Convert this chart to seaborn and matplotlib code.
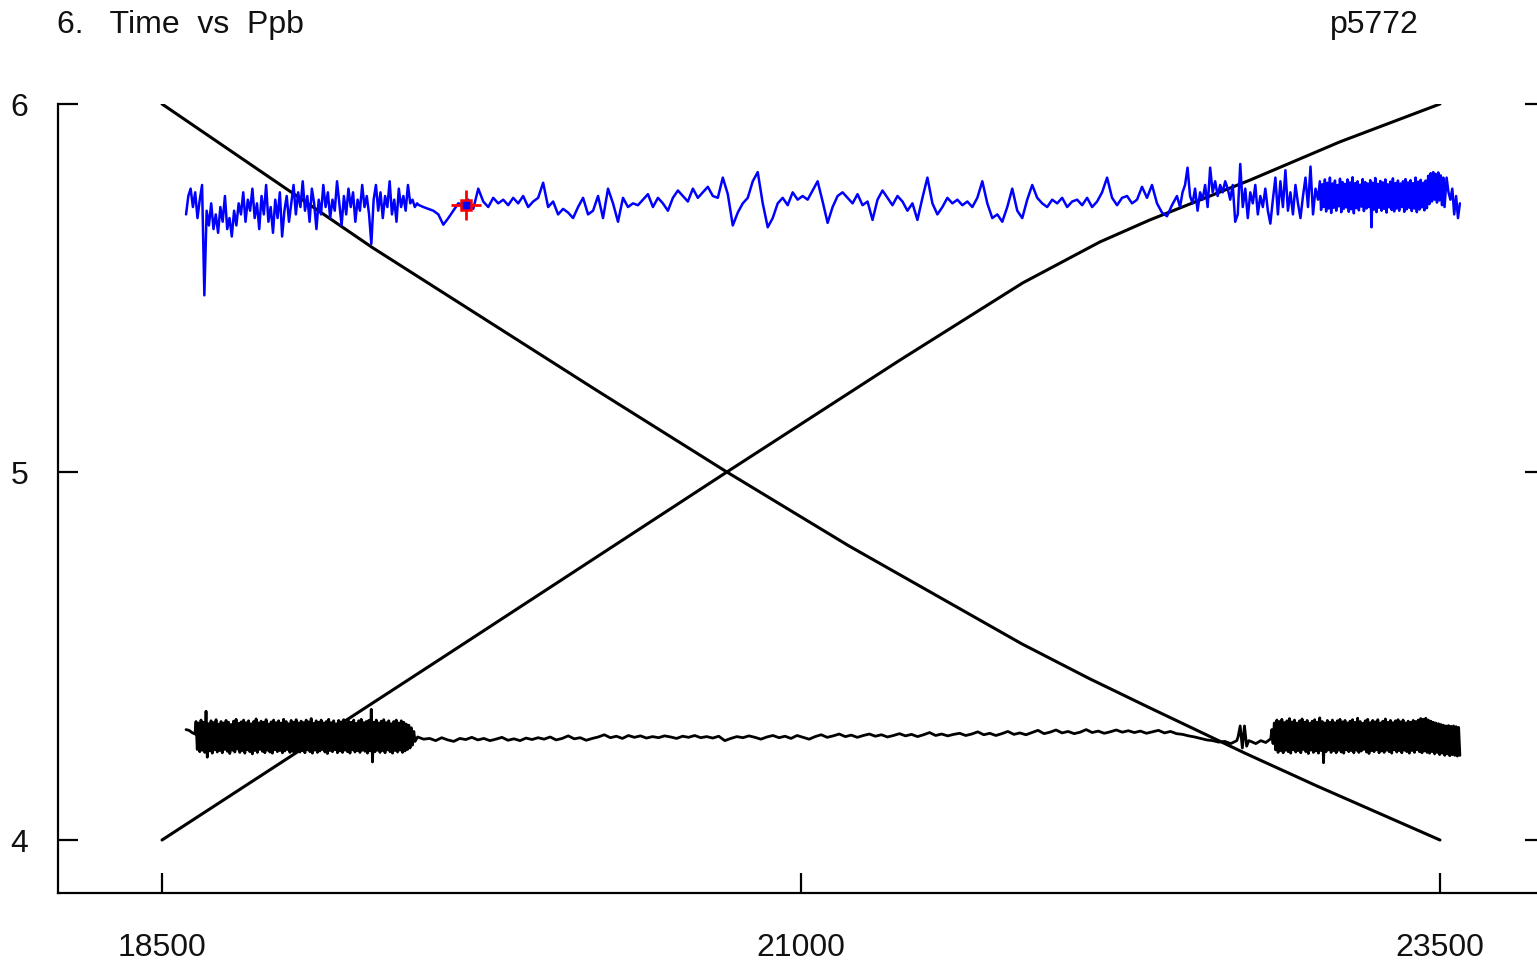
import numpy as np
import matplotlib
matplotlib.use("Agg")
import matplotlib.pyplot as plt
import seaborn as sns

# ---------------- data ----------------
# Smooth model curves (time, value)
fall_t = [18500, 19325, 20198, 20710, 21188, 21864, 22130, 22365, 22737, 23018, 23500]
fall_v = [6.000, 5.609, 5.223, 5.000, 4.799, 4.533, 4.438, 4.359, 4.236, 4.147, 4.000]

rise_t = [18500, 19607, 20710, 21387, 21868, 22169, 22365, 22756, 23108, 23500]
rise_v = [4.000, 4.500, 5.000, 5.304, 5.514, 5.625, 5.685, 5.793, 5.897, 6.000]

# Ppb series: spans of regular cadence (start, end) and the values in each
ppb_span = [(18594, 19498), (19503, 22471), (22483, 23023), (23030, 23518), (23526, 23578)]
ppb_a = [5.70, 5.75, 5.77, 5.72, 5.76, 5.69, 5.74, 5.78, 5.48, 5.71,
         5.67, 5.73, 5.66, 5.70, 5.65, 5.72, 5.68, 5.75, 5.66, 5.69,
         5.64, 5.71, 5.67, 5.73, 5.70, 5.76, 5.68, 5.74, 5.71, 5.77,
         5.69, 5.73, 5.66, 5.75, 5.70, 5.78, 5.68, 5.72, 5.65, 5.74,
         5.69, 5.76, 5.64, 5.71, 5.75, 5.68, 5.73, 5.78, 5.70, 5.76,
         5.72, 5.79, 5.71, 5.75, 5.68, 5.77, 5.73, 5.66, 5.74, 5.70,
         5.78, 5.72, 5.76, 5.69, 5.74, 5.71, 5.79, 5.73, 5.67, 5.75,
         5.70, 5.77, 5.72, 5.76, 5.68, 5.74, 5.71, 5.78, 5.72, 5.75,
         5.70, 5.62, 5.74, 5.78, 5.71, 5.76, 5.69, 5.75, 5.72, 5.79,
         5.70, 5.74, 5.68, 5.77, 5.72, 5.75, 5.71, 5.78, 5.73, 5.74,
         5.72, 5.73]
ppb_b = [5.726, 5.720, 5.715, 5.710, 5.700, 5.672, 5.690, 5.710, 5.730, 5.726,
         5.740, 5.715, 5.770, 5.735, 5.720, 5.745, 5.730, 5.740, 5.725, 5.745,
         5.730, 5.750, 5.720, 5.735, 5.745, 5.786, 5.720, 5.735, 5.700, 5.715,
         5.705, 5.690, 5.720, 5.745, 5.700, 5.710, 5.750, 5.690, 5.770, 5.730,
         5.680, 5.745, 5.720, 5.730, 5.725, 5.740, 5.755, 5.720, 5.745, 5.730,
         5.710, 5.745, 5.765, 5.750, 5.735, 5.770, 5.745, 5.760, 5.775, 5.750,
         5.745, 5.800, 5.755, 5.670, 5.705, 5.730, 5.745, 5.790, 5.815, 5.730,
         5.665, 5.690, 5.730, 5.745, 5.725, 5.760, 5.740, 5.750, 5.740, 5.765,
         5.790, 5.735, 5.677, 5.720, 5.750, 5.760, 5.745, 5.730, 5.755, 5.725,
         5.735, 5.685, 5.740, 5.765, 5.745, 5.725, 5.750, 5.735, 5.710, 5.730,
         5.685, 5.745, 5.800, 5.730, 5.700, 5.720, 5.745, 5.730, 5.740, 5.725,
         5.735, 5.720, 5.745, 5.790, 5.730, 5.690, 5.700, 5.680, 5.720, 5.770,
         5.710, 5.690, 5.740, 5.780, 5.745, 5.730, 5.720, 5.740, 5.730, 5.745,
         5.720, 5.735, 5.740, 5.725, 5.745, 5.720, 5.735, 5.760, 5.800, 5.745,
         5.725, 5.745, 5.750, 5.730, 5.740, 5.775, 5.745, 5.780, 5.730, 5.705,
         5.695, 5.725, 5.750]
ppb_c = [5.72, 5.76, 5.78, 5.827, 5.75, 5.73, 5.77, 5.71, 5.76, 5.74,
         5.78, 5.72, 5.827, 5.76, 5.79, 5.75, 5.78, 5.76, 5.79, 5.77,
         5.74, 5.78, 5.68, 5.70, 5.837, 5.72, 5.77, 5.69, 5.76, 5.73,
         5.78, 5.70, 5.75, 5.72, 5.77, 5.71, 5.675, 5.74, 5.80, 5.70,
         5.79, 5.72, 5.82, 5.71, 5.76, 5.70, 5.78, 5.73, 5.69, 5.75,
         5.80, 5.72, 5.83, 5.70, 5.77, 5.74]
# densely sampled stretch: upper and lower swing of consecutive samples
ppb_d_hi = [5.790, 5.782, 5.795, 5.786, 5.800, 5.784, 5.792, 5.780, 5.797, 5.788,
            5.783, 5.795, 5.787, 5.801, 5.785, 5.790, 5.781, 5.796, 5.788, 5.784,
            5.793, 5.786, 5.799, 5.783, 5.791, 5.787, 5.795, 5.782, 5.789, 5.798,
            5.785, 5.792, 5.784, 5.790, 5.796, 5.787, 5.793, 5.785, 5.800, 5.789,
            5.794, 5.786, 5.792, 5.805, 5.812, 5.815, 5.810, 5.814, 5.806, 5.800]
ppb_d_lo = [5.712, 5.720, 5.708, 5.716, 5.704, 5.718, 5.710, 5.722, 5.706, 5.715,
            5.719, 5.707, 5.714, 5.703, 5.717, 5.711, 5.721, 5.709, 5.716, 5.720,
            5.665, 5.713, 5.706, 5.718, 5.710, 5.715, 5.705, 5.719, 5.712, 5.708,
            5.716, 5.710, 5.720, 5.707, 5.714, 5.718, 5.709, 5.716, 5.706, 5.713,
            5.719, 5.711, 5.717, 5.728, 5.735, 5.740, 5.732, 5.738, 5.725, 5.720]
ppb_e = [5.80, 5.76, 5.74, 5.77, 5.70, 5.75, 5.69, 5.73]

# Residual-like series near 4.28
res_span = [(18594, 18629), (18633, 19490), (19500, 22705), (22710, 22752),
            (22760, 22838), (22842, 23578)]
res_lead = [4.300, 4.298, 4.292, 4.288]
res_a_hi = [4.322, 4.318, 4.326, 4.320, 4.350, 4.316, 4.324, 4.319, 4.327, 4.315,
            4.322, 4.318, 4.325, 4.320, 4.314, 4.323, 4.328, 4.317, 4.321, 4.326,
            4.319, 4.324, 4.316, 4.322, 4.329, 4.318, 4.323, 4.320, 4.327, 4.315,
            4.321, 4.326, 4.319, 4.324, 4.318, 4.328, 4.322, 4.316, 4.325, 4.320,
            4.327, 4.318, 4.323, 4.319, 4.326, 4.321, 4.330, 4.317, 4.324, 4.320,
            4.326, 4.318, 4.322, 4.328, 4.319, 4.324, 4.316, 4.325, 4.321, 4.327,
            4.318, 4.323, 4.320, 4.326, 4.317, 4.324, 4.328, 4.319, 4.322, 4.325,
            4.355, 4.320, 4.326, 4.318, 4.323, 4.327, 4.319, 4.324, 4.316, 4.322,
            4.326, 4.318, 4.324, 4.320, 4.315, 4.312, 4.305, 4.295]
res_a_lo = [4.246, 4.240, 4.244, 4.238, 4.225, 4.242, 4.236, 4.245, 4.239, 4.243,
            4.237, 4.246, 4.241, 4.235, 4.244, 4.239, 4.247, 4.238, 4.243, 4.236,
            4.245, 4.240, 4.234, 4.243, 4.238, 4.246, 4.241, 4.237, 4.244, 4.239,
            4.236, 4.245, 4.240, 4.243, 4.237, 4.242, 4.246, 4.238, 4.241, 4.235,
            4.244, 4.239, 4.243, 4.237, 4.245, 4.240, 4.236, 4.244, 4.238, 4.242,
            4.246, 4.239, 4.235, 4.243, 4.240, 4.245, 4.237, 4.242, 4.238, 4.244,
            4.240, 4.236, 4.245, 4.239, 4.243, 4.238, 4.244, 4.241, 4.236, 4.242,
            4.212, 4.240, 4.244, 4.238, 4.243, 4.237, 4.245, 4.240, 4.236, 4.243,
            4.239, 4.244, 4.238, 4.242, 4.246, 4.250, 4.258, 4.268]
res_b = [4.280, 4.274, 4.276, 4.270, 4.278, 4.272, 4.268, 4.276, 4.273, 4.279,
         4.272, 4.276, 4.270, 4.274, 4.279, 4.271, 4.275, 4.270, 4.277, 4.273,
         4.278, 4.274, 4.280, 4.272, 4.276, 4.283, 4.275, 4.278, 4.271, 4.276,
         4.280, 4.286, 4.278, 4.282, 4.276, 4.284, 4.279, 4.283, 4.277, 4.281,
         4.278, 4.283, 4.280, 4.276, 4.282, 4.279, 4.284, 4.278, 4.281, 4.277,
         4.282, 4.270, 4.276, 4.281, 4.278, 4.283, 4.279, 4.274, 4.280, 4.284,
         4.278, 4.282, 4.276, 4.284, 4.279, 4.274, 4.281, 4.286, 4.279, 4.283,
         4.288, 4.281, 4.285, 4.279, 4.284, 4.288, 4.282, 4.286, 4.280, 4.284,
         4.289, 4.283, 4.287, 4.281, 4.286, 4.292, 4.284, 4.288, 4.283, 4.287,
         4.290, 4.284, 4.288, 4.294, 4.286, 4.290, 4.284, 4.289, 4.295, 4.287,
         4.291, 4.286, 4.292, 4.298, 4.289, 4.293, 4.299, 4.291, 4.295, 4.289,
         4.293, 4.300, 4.292, 4.296, 4.290, 4.294, 4.299, 4.293, 4.297, 4.292,
         4.296, 4.290, 4.294, 4.298, 4.291, 4.295, 4.289, 4.287, 4.283, 4.280,
         4.276, 4.272, 4.270, 4.266, 4.268, 4.262, 4.270]
res_c = [4.280, 4.310, 4.250, 4.310, 4.255, 4.270]
res_d = [4.268, 4.262, 4.270, 4.265, 4.275]
res_e_hi = [4.300, 4.318, 4.326, 4.322, 4.328, 4.319, 4.324, 4.330, 4.321, 4.326,
            4.318, 4.324, 4.329, 4.320, 4.325, 4.317, 4.323, 4.327, 4.320, 4.332,
            4.322, 4.318, 4.325, 4.320, 4.326, 4.319, 4.324, 4.328, 4.321, 4.325,
            4.318, 4.323, 4.327, 4.320, 4.331, 4.322, 4.317, 4.324, 4.328, 4.319,
            4.325, 4.321, 4.327, 4.318, 4.323, 4.329, 4.320, 4.325, 4.319, 4.324,
            4.327, 4.321, 4.326, 4.318, 4.323, 4.320, 4.325, 4.322, 4.326, 4.330,
            4.328, 4.331, 4.326, 4.323, 4.320, 4.318, 4.316, 4.314, 4.312, 4.310,
            4.311, 4.309, 4.310, 4.308, 4.306]
res_e_lo = [4.262, 4.245, 4.238, 4.243, 4.237, 4.244, 4.240, 4.236, 4.245, 4.239,
            4.243, 4.237, 4.246, 4.240, 4.235, 4.244, 4.238, 4.242, 4.236, 4.243,
            4.210, 4.240, 4.245, 4.238, 4.243, 4.237, 4.244, 4.239, 4.236, 4.245,
            4.240, 4.243, 4.237, 4.244, 4.238, 4.242, 4.246, 4.239, 4.235, 4.243,
            4.240, 4.245, 4.237, 4.242, 4.238, 4.244, 4.240, 4.236, 4.245, 4.239,
            4.243, 4.237, 4.244, 4.240, 4.236, 4.243, 4.238, 4.245, 4.240, 4.237,
            4.242, 4.238, 4.236, 4.240, 4.234, 4.238, 4.232, 4.236, 4.230, 4.234,
            4.229, 4.232, 4.230, 4.228, 4.230]

# Highlighted epoch
mark_t = [19689]
mark_v = [5.726]

x_ticks = [18500, 21000, 23500]
y_ticks = [4, 5, 6]
title_text = "6.   Time  vs  Ppb"
tag_text = "p5772"


def interleave(hi, lo):
    return np.column_stack([hi, lo]).ravel()


def spans_to_series(spans, chunks):
    ts, vs = [], []
    for (t0, t1), vals in zip(spans, chunks):
        vals = np.asarray(vals, dtype=float)
        ts.append(np.linspace(t0, t1, len(vals)))
        vs.append(vals)
    return np.concatenate(ts), np.concatenate(vs)


ppb_t, ppb_v = spans_to_series(
    ppb_span, [ppb_a, ppb_b, ppb_c, interleave(ppb_d_hi, ppb_d_lo), ppb_e])
res_t, res_v = spans_to_series(
    res_span, [res_lead, interleave(res_a_hi, res_a_lo), res_b, res_c, res_d,
               interleave(res_e_hi, res_e_lo)])

# ---------------- figure ----------------
sns.set_style("ticks")
plt.rcParams["font.family"] = ["Liberation Sans", "DejaVu Sans"]

W, H = 1537, 964
fig = plt.figure(figsize=(W / 100, H / 100), dpi=100)
ax = fig.add_axes([58 / W, 71 / H, (1545 - 58) / W, (893 - 104) / H])

line_kw = dict(ax=ax, sort=False, estimator=None, legend=False)
sns.lineplot(x=fall_t, y=fall_v, color="black", lw=2.2, **line_kw)
sns.lineplot(x=rise_t, y=rise_v, color="black", lw=2.2, **line_kw)
sns.lineplot(x=res_t, y=res_v, color="black", lw=2.0, **line_kw)
sns.lineplot(x=ppb_t, y=ppb_v, color="#0000ff", lw=1.8, **line_kw)

ax.plot(mark_t, mark_v, marker="+", ms=22, mew=2.0, color="#ff0000", ls="none", zorder=5)
ax.plot(mark_t, mark_v, marker="s", ms=7, mew=1.8, mec="#ff0000", mfc="#0000ff", ls="none", zorder=6)

ax.set_xlim(18093, 23911)
ax.set_ylim(3.856, 6.0)
ax.set_xticks(x_ticks)
ax.set_yticks(y_ticks)
ax.set_xticklabels([str(v) for v in x_ticks])
ax.set_yticklabels([str(v) for v in y_ticks])
ax.set_xlabel("")
ax.set_ylabel("")

for side in ("top", "right"):
    ax.spines[side].set_visible(False)
for side in ("left", "bottom"):
    ax.spines[side].set_linewidth(1.6)
    ax.spines[side].set_color("black")

ax.tick_params(axis="both", direction="in", length=14.4, width=1.6, colors="black",
               labelsize=23, labelcolor="#111111")
ax.tick_params(axis="y", right=True, labelright=False, pad=21.5)
ax.tick_params(axis="x", pad=29)

fig.text(57 / W, 1 - 33 / H, title_text, fontsize=23, color="#111111", va="baseline", ha="left")
fig.text(1330 / W, 1 - 33 / H, tag_text, fontsize=23, color="#111111", va="baseline", ha="left")

fig.savefig("out.png", dpi=100, facecolor="white")
